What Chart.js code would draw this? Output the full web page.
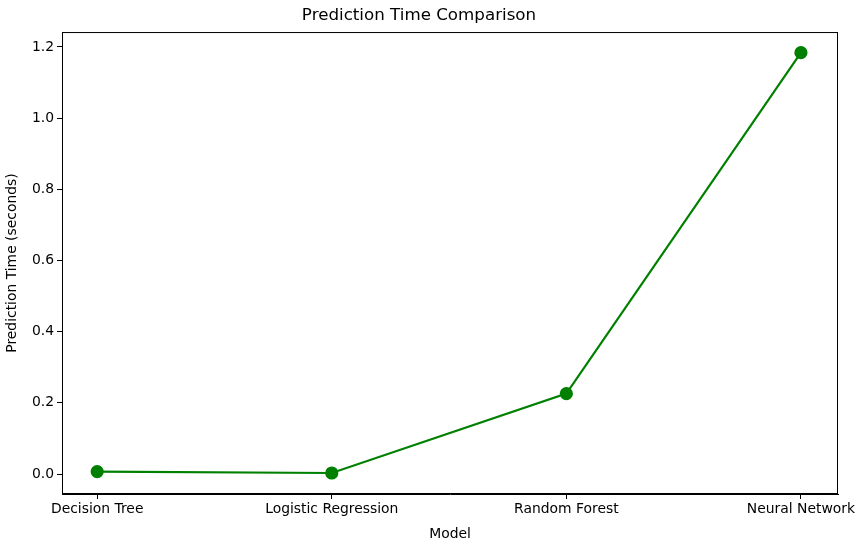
<!DOCTYPE html>
<html><head><script src="https://cdn.jsdelivr.net/npm/chart.js@4"></script>
<style>body{margin:0;background:#fff}</style></head>
<body><div style="width:865px;height:547px"><canvas id="c"></canvas></div>
<script>
const categories=["Decision Tree","Logistic Regression","Random Forest","Neural Network"];
const times=[0.007,0.003,0.226,1.184];
const yTicks=[0,0.2,0.4,0.6,0.8,1.0,1.2];
Chart.defaults.font.family="DejaVu Sans";
Chart.defaults.font.size=13.9;
Chart.defaults.color="#000";
const frame={id:'frame',afterDraw(c){const a=c.chartArea,x=c.ctx;x.save();x.strokeStyle='#000';x.lineWidth=1;x.strokeRect(a.left+0.5,a.top+0.5,a.right-a.left-1,a.bottom-a.top-1);x.restore();}};
new Chart(document.getElementById('c'),{
type:'line',
data:{datasets:[{data:times.map((v,i)=>({x:i,y:v})),borderColor:'green',backgroundColor:'green',borderWidth:2.2,pointRadius:5.5,pointHoverRadius:5.5,tension:0}]},
plugins:[frame],
options:{responsive:true,maintainAspectRatio:false,animation:false,
layout:{padding:{right:27,top:0,bottom:0,left:0}},
plugins:{legend:{display:false},tooltip:{enabled:false},
title:{display:true,text:"Prediction Time Comparison",font:{size:16.7,weight:'normal'},padding:{top:6,bottom:6}}},
scales:{
x:{type:'linear',min:-0.15,max:3.158,grid:{display:true,drawOnChartArea:false,tickLength:5,color:'#000'},border:{color:'#000'},
afterBuildTicks:a=>{a.ticks=categories.map((_,i)=>({value:i}));},
ticks:{callback:v=>categories[v]??'',maxRotation:0,autoSkip:false,padding:2},
title:{display:true,text:'Model',padding:{top:0}},afterFit:a=>{a.height=53;}},
y:{min:-0.056,max:1.242,grid:{display:true,drawOnChartArea:false,tickLength:5,color:'#000'},border:{color:'#000'},
afterBuildTicks:a=>{a.ticks=yTicks.map(v=>({value:v}));},
ticks:{callback:v=>v.toFixed(1),padding:3},
title:{display:true,text:'Prediction Time (seconds)'},afterFit:a=>{a.width=62;}}
}}});
</script></body></html>
